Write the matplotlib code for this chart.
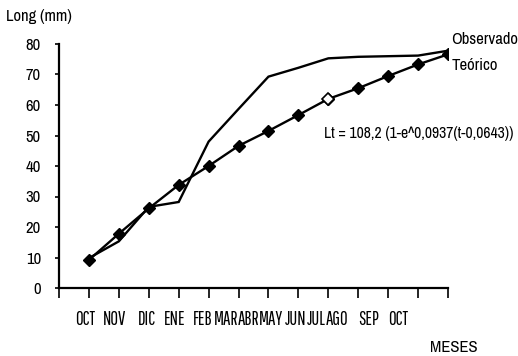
import matplotlib
matplotlib.use("Agg")
import matplotlib.pyplot as plt
import numpy as np
from matplotlib import font_manager as fm

months = ["OCT", "NOV", "DIC", "ENE", "FEB", "MAR", "ABR", "MAY", "JUN", "JUL", "AGO", "SEP", "OCT"]
observado = [9.8, 15.3, 26.6, 28.2, 48.0, 58.7, 69.3, 72.2, 75.3, 75.8, 76.0, 76.2, 77.8]
teorico = [9.2, 17.8, 26.1, 33.8, 40.0, 46.6, 51.5, 56.7, 62.0, 65.5, 69.5, 73.3, 76.6]
hollow_index = 8
yticks = [0, 10, 20, 30, 40, 50, 60, 70, 80]
# layout: where the month labels sit along the axis (as in the scanned original)
label_pos = [0.87, 1.87, 2.94, 3.88, 4.81, 5.58, 6.32, 7.09, 7.92, 8.59, 9.29, 10.36, 11.33]

avail = {f.name for f in fm.fontManager.ttflist}
fam = next((f for f in ["Archivo Narrow", "Roboto Condensed", "PT Sans Narrow"] if f in avail), "DejaVu Sans")
plt.rcParams["font.family"] = [fam, "DejaVu Sans"]
if "Pathway Gothic One" in avail:
    month_fam, month_size = ["Pathway Gothic One", fam], 13.5
else:
    month_fam, month_size = [fam, "DejaVu Sans"], 10

fig = plt.figure(figsize=(5.18, 3.56), dpi=100)
ax = fig.add_axes([59/518, 1-288/356, (448-59)/518, (288-44)/356])

x = np.arange(1, len(months)+1)
ax.plot(x, observado, color="black", lw=1.7, solid_joinstyle="miter")
ax.plot(x, teorico, color="black", lw=1.7, marker="D", ms=6, mfc="black", mec="black")
ax.plot(x[hollow_index], teorico[hollow_index], marker="D", ms=6, mfc="white", mec="black", mew=1.2, ls="none")

ax.set_xlim(0, len(months))
ax.set_ylim(0, 80)
ax.set_xticks(np.arange(0, len(months)+1))
ax.set_xticklabels([])
ax.set_xticks(label_pos, minor=True)
ax.set_xticklabels(months, minor=True, fontsize=month_size, family=month_fam)
ax.tick_params(axis="x", which="major", direction="out", length=7, width=1.2)
ax.tick_params(axis="x", which="minor", length=0, pad=16)
ax.set_yticks(yticks)
ax.set_yticklabels([str(v) for v in yticks], fontsize=12)
ax.tick_params(axis="y", direction="out", length=3, width=1.2, pad=10)

for s in ["top", "right"]:
    ax.spines[s].set_visible(False)
for s in ["left", "bottom"]:
    ax.spines[s].set_linewidth(1.6)

fig.text(39/518, 1-16/356, "Long (mm)", ha="center", va="center", fontsize=12)
fig.text(451/518, 1-40/356, "Observado", ha="left", va="center", fontsize=12)
fig.text(452/518, 1-66/356, "Teórico", ha="left", va="center", fontsize=12)
fig.text(324/518, 1-134/356, "Lt = 108,2 (1-e^0,0937(t-0,0643))", ha="left", va="center", fontsize=11.3)
fig.text(454/518, 1-348/356, "MESES", ha="center", va="center", fontsize=12)

fig.savefig("out.png", dpi=100)
